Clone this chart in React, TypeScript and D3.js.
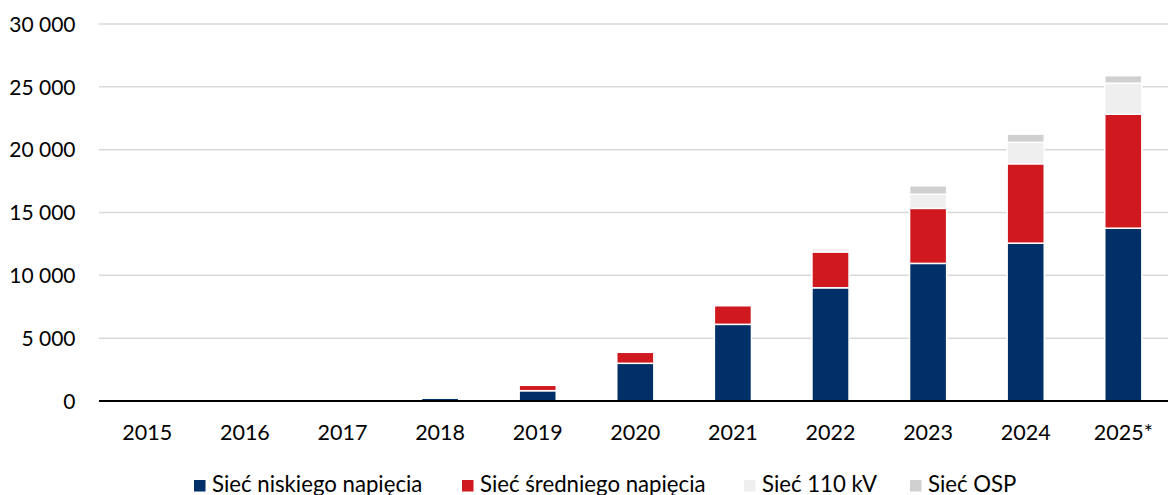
import React from 'react';
import * as d3 from 'd3';

const categories = ['2015', '2016', '2017', '2018', '2019', '2020', '2021', '2022', '2023', '2024', '2025*'];
const siecNiskiego = [0, 0, 0, 220, 820, 3000, 6100, 9010, 10950, 12560, 13750];
const siecSredniego = [0, 0, 0, 0, 430, 875, 1480, 2850, 4380, 6320, 9070];
const siec110kV = [0, 0, 0, 0, 0, 0, 0, 280, 1120, 1700, 2470];
const siecOSP = [0, 0, 0, 0, 0, 0, 0, 0, 680, 660, 600];
const yTicks = [0, 5000, 10000, 15000, 20000, 25000, 30000];

const seriesNames = ['Sieć niskiego napięcia', 'Sieć średniego napięcia', 'Sieć 110 kV', 'Sieć OSP'];
const seriesColors = ['#003067', '#D0191F', '#EFEFEF', '#D0D0D0'];
const legendX = [194, 462, 744, 910];

const W = 1168;
const H = 495;
const FONT = 'Lato, "Open Sans", sans-serif';

export default function App() {
  const x = d3
    .scaleBand<string>()
    .domain(categories)
    .range([98.5, 98.5 + 11 * 97.6])
    .paddingInner(0.62)
    .paddingOuter(0.31);
  const y = d3.scaleLinear().domain([0, 30000]).range([401, 24]);

  const table = categories.map((c, i) => ({
    cat: c,
    s0: siecNiskiego[i],
    s1: siecSredniego[i],
    s2: siec110kV[i],
    s3: siecOSP[i],
  }));
  const stack = d3.stack<any>().keys(['s0', 's1', 's2', 's3']);
  const layers = stack(table);
  const fmt = (v: number) => d3.format(',')(v).replace(/,/g, ' ');

  return (
    <svg
      width={W}
      height={H}
      style={{ position: 'absolute', left: 0, top: 0, background: '#fff' }}
      fontFamily={FONT}
    >
      {yTicks.map((t) => (
        <g key={t}>
          {t !== 0 && (
            <line x1={99} x2={W} y1={y(t)} y2={y(t)} stroke="#D9D9D9" strokeWidth={1.5} />
          )}
          <text x={75.5} y={y(t) + 7.8} textAnchor="end" fontSize={21} fill="#000">
            {fmt(t)}
          </text>
        </g>
      ))}
      {layers.map((layer, li) => (
        <g key={li} fill={seriesColors[li]}>
          {layer.map((d, i) => {
            const h = y(d[0]) - y(d[1]);
            if (h <= 0) return null;
            return (
              <rect
                key={i}
                x={x(categories[i])}
                width={x.bandwidth()}
                y={y(d[1])}
                height={h}
                stroke="#fff"
                strokeWidth={1.5}
              />
            );
          })}
        </g>
      ))}
      <line x1={99} x2={W} y1={y(0)} y2={y(0)} stroke="#000" strokeWidth={2} />
      {categories.map((c) => (
        <text
          key={c}
          x={(x(c) as number) + x.bandwidth() / 2}
          y={439.5}
          textAnchor="middle"
          fontSize={21.5}
          fill="#000"
        >
          {c}
        </text>
      ))}
      {seriesNames.map((n, i) => (
        <g key={n}>
          <rect x={legendX[i]} y={480} width={11.5} height={11.5} fill={seriesColors[i]} />
          <text x={legendX[i] + 18} y={492} fontSize={22.2} fill="#000">
            {n}
          </text>
        </g>
      ))}
    </svg>
  );
}
